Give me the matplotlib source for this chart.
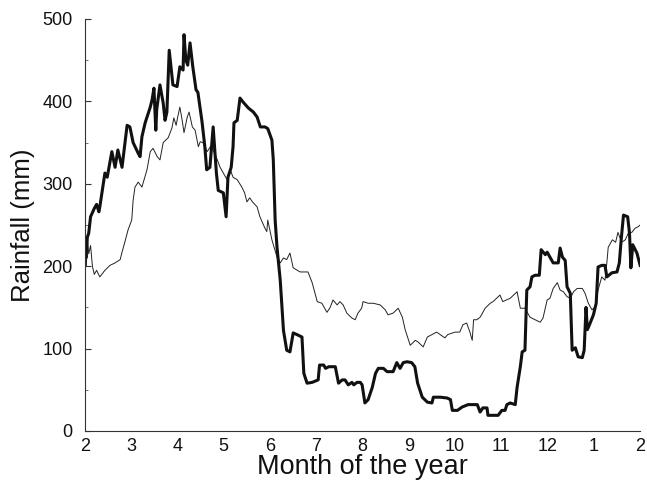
import numpy as np
import matplotlib
matplotlib.use("Agg")
import matplotlib.pyplot as plt
from matplotlib.ticker import MultipleLocator

plt.rcParams['font.family'] = ['Liberation Sans', 'DejaVu Sans']

# month position (2 = Feb ... 14 = Feb of next year) and rainfall (mm)
thick_x = [2.00, 2.02, 2.05, 2.08, 2.12, 2.20, 2.25, 2.30, 2.32, 2.43, 2.48, 2.58, 2.65,
           2.71, 2.80, 2.91, 2.97, 3.04, 3.15, 3.19, 3.23, 3.30, 3.41, 3.45, 3.49, 3.53,
           3.55, 3.62, 3.69, 3.73, 3.77, 3.82, 3.90, 3.99, 4.05, 4.12, 4.14, 4.18, 4.22,
           4.27, 4.33, 4.40, 4.44, 4.53, 4.59, 4.63, 4.70, 4.77, 4.84, 4.88, 4.99, 5.05,
           5.09, 5.16, 5.20, 5.22, 5.29, 5.35, 5.42, 5.53, 5.64, 5.72, 5.79, 5.89, 5.95,
           6.04, 6.07, 6.11, 6.15, 6.22, 6.29, 6.36, 6.43, 6.50, 6.58, 6.69, 6.73, 6.80,
           6.91, 7.04, 7.07, 7.16, 7.20, 7.27, 7.41, 7.48, 7.56, 7.62, 7.69, 7.77, 7.81,
           7.88, 7.95, 7.99, 8.05, 8.12, 8.21, 8.28, 8.34, 8.45, 8.53, 8.66, 8.74, 8.81,
           8.88, 8.96, 9.06, 9.13, 9.19, 9.29, 9.40, 9.50, 9.53, 9.68, 9.83, 9.90, 9.94,
           10.05, 10.15, 10.28, 10.48, 10.54, 10.60, 10.69, 10.71, 10.93, 11.01, 11.08,
           11.12, 11.19, 11.30, 11.34, 11.41, 11.45, 11.51, 11.55, 11.62, 11.66, 11.73,
           11.82, 11.86, 11.95, 11.99, 12.05, 12.12, 12.23, 12.27, 12.32, 12.38, 12.42,
           12.49, 12.53, 12.60, 12.66, 12.75, 12.79, 12.83, 12.86, 12.92, 12.99, 13.05,
           13.09, 13.17, 13.24, 13.28, 13.39, 13.50, 13.55, 13.59, 13.64, 13.73, 13.77,
           13.80, 13.84, 13.93, 14.00]
thick_y = [225, 210, 235, 240, 260, 270, 275, 266, 272, 313, 308, 339, 320,
           341, 320, 371, 369, 350, 337, 333, 357, 374, 393, 402, 416, 365,
           390, 420, 398, 377, 387, 462, 420, 418, 442, 438, 481, 450, 444,
           471, 442, 414, 411, 375, 345, 317, 320, 369, 313, 292, 289, 260,
           308, 320, 345, 374, 377, 404, 399, 392, 387, 381, 369, 369, 367,
           353, 329, 256, 223, 183, 122, 98, 96, 119, 117, 114, 70, 58,
           59, 62, 80, 80, 76, 78, 78, 58, 62, 62, 56, 59, 56,
           59, 59, 56, 34, 38, 53, 70, 76, 76, 72, 72, 83, 76,
           83, 84, 83, 78, 58, 41, 35, 34, 41, 41, 40, 38, 25,
           25, 29, 32, 32, 23, 28, 28, 19, 19, 25, 25,
           32, 34, 32, 53, 78, 96, 98, 171, 175, 187, 189,
           189, 220, 214, 217, 211, 204, 204, 222, 211, 207, 175,
           167, 98, 101, 90, 89, 98, 150, 123, 131, 141, 155,
           199, 201, 201, 187, 192, 193, 204, 232, 262, 260, 240,
           198, 226, 216, 201]

thin_x = [2.00, 2.03, 2.05, 2.08, 2.12, 2.16, 2.20, 2.25, 2.32, 2.43, 2.54, 2.65, 2.76,
          2.80, 2.86, 2.93, 3.01, 3.04, 3.08, 3.15, 3.23, 3.34, 3.41, 3.47, 3.56, 3.62,
          3.69, 3.80, 3.88, 3.92, 3.97, 4.00, 4.05, 4.10, 4.14, 4.21, 4.25, 4.32, 4.38,
          4.45, 4.49, 4.55, 4.64, 4.71, 4.77, 4.86, 4.92, 4.99, 5.07, 5.14, 5.20, 5.29,
          5.39, 5.45, 5.50, 5.56, 5.62, 5.72, 5.78, 5.89, 5.93, 5.95, 6.04, 6.15, 6.22,
          6.29, 6.36, 6.43, 6.50, 6.65, 6.82, 6.91, 7.02, 7.12, 7.23, 7.30, 7.36, 7.45,
          7.51, 7.58, 7.66, 7.77, 7.84, 7.90, 7.98, 8.01, 8.12, 8.23, 8.38, 8.49, 8.55,
          8.66, 8.77, 8.86, 8.92, 9.03, 9.14, 9.20, 9.31, 9.40, 9.50, 9.60, 9.78, 9.84,
          10.00, 10.10, 10.17, 10.25, 10.32, 10.37, 10.40, 10.47, 10.54, 10.65, 10.76,
          10.82, 10.97, 11.03, 11.19, 11.34, 11.41, 11.51, 11.62, 11.73, 11.84, 11.90,
          11.99, 12.05, 12.12, 12.21, 12.27, 12.34, 12.42, 12.49, 12.56, 12.64, 12.75,
          12.81, 12.88, 12.96, 13.03, 13.09, 13.17, 13.24, 13.28, 13.31, 13.40, 13.47,
          13.52, 13.60, 13.68, 13.75, 13.82, 13.89, 13.96, 14.00]
thin_y = [245, 200, 235, 215, 225, 200, 190, 195, 187, 195, 201, 204, 208,
          217, 229, 244, 256, 280, 296, 302, 296, 317, 339, 343, 333, 329,
          350, 356, 368, 380, 371, 380, 393, 377, 362, 381, 387, 369, 365,
          345, 351, 350, 339, 345, 341, 329, 320, 313, 305, 317, 308, 305,
          296, 289, 278, 283, 278, 272, 260, 246, 242, 256, 232, 211, 204,
          210, 208, 216, 198, 193, 193, 180, 157, 155, 144, 150, 159, 153,
          157, 153, 143, 137, 135, 143, 149, 157, 155, 155, 153, 147, 141,
          143, 149, 138, 123, 104, 110, 108, 102, 114, 117, 120, 113, 117,
          120, 120, 129, 131, 120, 110, 135, 135, 138, 149, 155,
          157, 165, 157, 161, 169, 149, 149, 138, 135, 132, 137,
          159, 161, 173, 180, 171, 169, 163, 161, 169, 173, 173,
          167, 155, 147, 151, 171, 187, 183, 204, 223, 232, 229,
          241, 229, 232, 241, 241, 246, 248, 250]

month_ticks = list(range(2, 15))
month_labels = ["2", "3", "4", "5", "6", "7", "8", "9", "10", "11", "12", "1", "2"]

fig = plt.figure(figsize=(6.47, 4.83), dpi=100)
ax = fig.add_axes([0.1314, 0.1077, 0.858, 0.853])

ax.plot(thin_x, thin_y, color="#222222", linewidth=0.7)
ax.plot(thick_x, thick_y, color="#111111", linewidth=2.2)

ax.set_xlim(2, 14)
ax.set_ylim(0, 500)
ax.set_xticks(month_ticks)
ax.set_xticklabels(month_labels)
ax.yaxis.set_major_locator(MultipleLocator(100))
ax.yaxis.set_minor_locator(MultipleLocator(50))

ax.spines["top"].set_visible(False)
ax.spines["right"].set_visible(False)
for s in ("left", "bottom"):
    ax.spines[s].set_linewidth(0.8)
    ax.spines[s].set_color("#333333")

ax.tick_params(axis="y", which="major", direction="in", length=4, width=0.8,
               labelsize=13, pad=9, colors="#333333", labelcolor="#111111")
ax.tick_params(axis="y", which="minor", direction="in", length=2.5, width=0.6,
               colors="#555555")
ax.tick_params(axis="x", which="major", length=0, labelsize=13, pad=5,
               labelcolor="#111111")

ax.set_xlabel("Month of the year", fontsize=19.5, labelpad=-1, color="#111111")
ax.set_ylabel("Rainfall (mm)", fontsize=18.5, labelpad=5, color="#111111")

fig.savefig("out.png", dpi=100)
